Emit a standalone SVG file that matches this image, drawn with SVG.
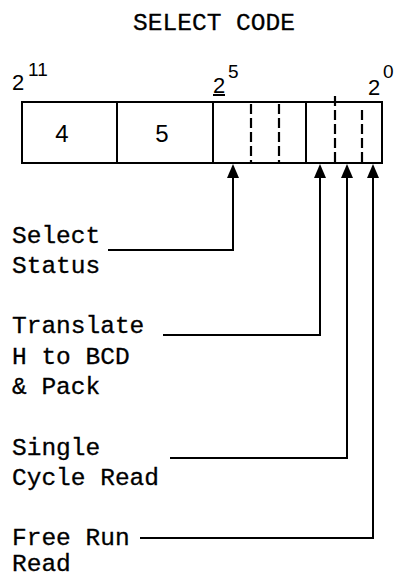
<svg xmlns="http://www.w3.org/2000/svg" width="398" height="578" viewBox="0 0 398 578">
<defs>
<style>
.mono{font-family:"Liberation Mono","Courier New",monospace;font-size:24.5px;fill:#000;stroke:#000;stroke-width:0.3}
.sans{font-family:"Liberation Sans",Arial,sans-serif;fill:#000}
.ln{stroke:#000;stroke-width:2;fill:none}
.dash{stroke:#000;stroke-width:2.2;stroke-dasharray:10,4;fill:none}
.head{fill:#000}
</style>
</defs>
<rect width="398" height="578" fill="#fff"/>
<text class="mono" x="214" y="30" text-anchor="middle" textLength="162" lengthAdjust="spacingAndGlyphs">SELECT CODE</text>
<g id="register">
<rect class="ln" x="22" y="102" width="360" height="61" stroke-width="2.6"/>
<line class="ln" x1="117" y1="102" x2="117" y2="163"/>
<line class="ln" x1="213" y1="102" x2="213" y2="163"/>
<line class="dash" x1="251" y1="104" x2="251" y2="163"/>
<line class="dash" x1="279" y1="104" x2="279" y2="163"/>
<line class="ln" x1="306" y1="102" x2="306" y2="163"/>
<line class="dash" x1="335" y1="96" x2="335" y2="163"/>
<line class="dash" x1="362" y1="110" x2="362" y2="163"/>
<text class="sans" x="62" y="142" font-size="24" text-anchor="middle">4</text>
<text class="sans" x="162" y="142" font-size="24" text-anchor="middle">5</text>
</g>
<g id="bit-labels">
<text class="sans" x="12" y="90" font-size="22">2</text>
<text class="sans" x="28" y="76" font-size="19">11</text>
<text class="sans" x="213" y="93" font-size="22">2</text>
<line class="ln" x1="213" y1="95" x2="225" y2="95" stroke-width="1.5"/>
<text class="sans" x="228" y="78" font-size="19">5</text>
<text class="sans" x="368" y="95" font-size="22">2</text>
<text class="sans" x="383" y="78" font-size="19">0</text>
</g>
<g id="connectors">
<polyline class="ln" points="233,175 233,250 108,250"/>
<polyline class="ln" points="320,175 320,335 163,335"/>
<polyline class="ln" points="347,175 347,458 170,458"/>
<polyline class="ln" points="373,175 373,538 140,538"/>
<path class="head" d="M233,164 L239,178 L227,178 Z"/>
<path class="head" d="M320,164 L326,178 L314,178 Z"/>
<path class="head" d="M347,164 L353,178 L341,178 Z"/>
<path class="head" d="M373,164 L379,178 L367,178 Z"/>
</g>
<g id="select-status">
<text class="mono" x="12" y="243">Select</text>
<text class="mono" x="12" y="273">Status</text>
</g>
<g id="translate">
<text class="mono" x="12" y="333">Translate</text>
<text class="mono" x="12" y="364">H to BCD</text>
<text class="mono" x="12" y="394">&amp; Pack</text>
</g>
<g id="single-cycle">
<text class="mono" x="12" y="455">Single</text>
<text class="mono" x="12" y="485">Cycle Read</text>
</g>
<g id="free-run">
<text class="mono" x="12" y="545">Free Run</text>
<text class="mono" x="12" y="571">Read</text>
</g>
</svg>
